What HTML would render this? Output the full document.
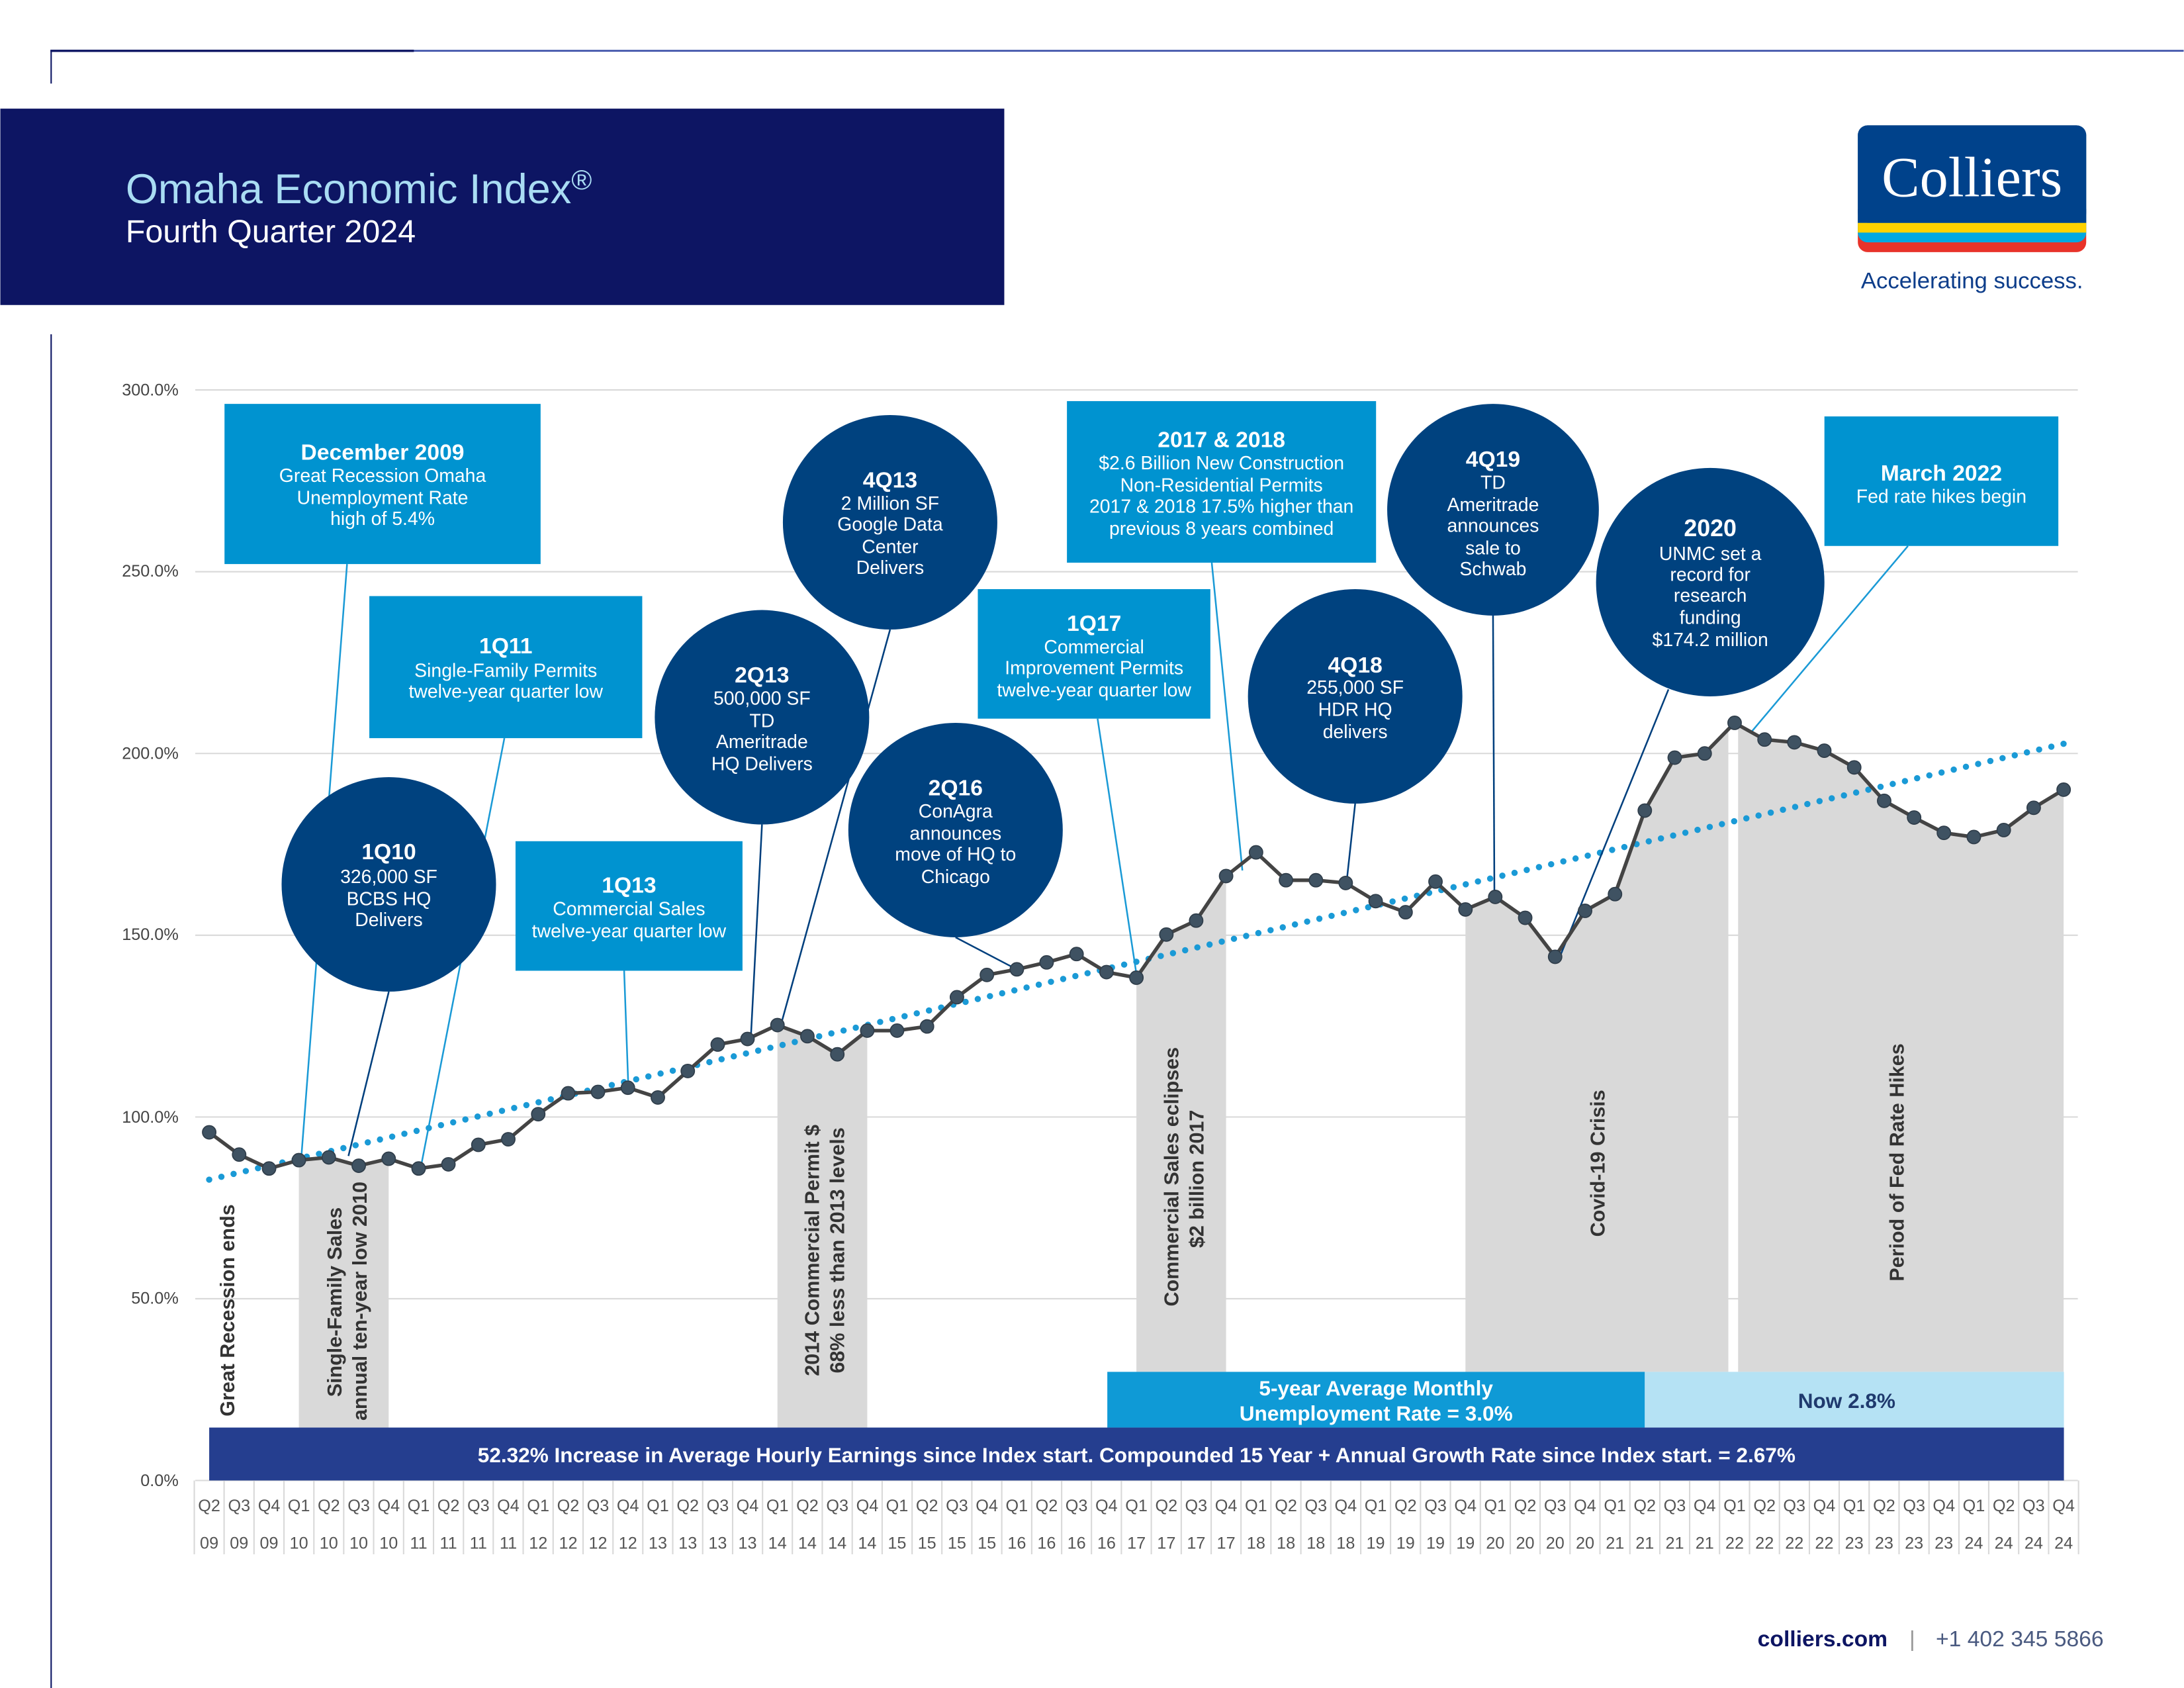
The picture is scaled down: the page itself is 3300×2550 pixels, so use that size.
<!DOCTYPE html>
<html><head><meta charset="utf-8"><style>
html,body{margin:0;padding:0;background:#fff}
svg{display:block}
text{font-family:"Liberation Sans",Arial,sans-serif}
text.serif{font-family:"Liberation Serif",serif}
</style></head><body>
<svg width="3300" height="2550" viewBox="0 0 1568 1212" xmlns="http://www.w3.org/2000/svg">
<rect width="1568" height="1212" fill="#fff"/>
<line x1="36" y1="36.5" x2="1568" y2="36.5" stroke="#3b4fa8" stroke-width="1.3"/>
<line x1="36" y1="36.5" x2="297" y2="36.5" stroke="#0d1563" stroke-width="1.6"/>
<line x1="36.5" y1="36" x2="36.5" y2="60" stroke="#0d1563" stroke-width="1"/>
<line x1="36.5" y1="240" x2="36.5" y2="1212" stroke="#0d1563" stroke-width="1"/>
<rect x="0" y="78" width="721" height="141" fill="#0d1563"/>
<text x="90" y="146" font-size="30" fill="#a9dcf3">Omaha Economic Index<tspan font-size="20" dy="-10">®</tspan></text>
<text x="90" y="174" font-size="23" fill="#fff">Fourth Quarter 2024</text>
<rect x="1334" y="90" width="164" height="91" rx="7" fill="#e8332a"/>
<rect x="1334" y="90" width="164" height="84" rx="7" fill="#00a8e1"/>
<rect x="1334" y="160" width="164" height="7" fill="#ffd200"/>
<rect x="1334" y="90" width="164" height="70" rx="7" fill="#00428b"/>
<rect x="1334" y="150" width="164" height="10" fill="#00428b"/>
<text class="serif" x="1416" y="141" font-size="41" fill="#fff" text-anchor="middle">Colliers</text>
<text x="1416" y="207" font-size="16.5" fill="#0d3d8a" text-anchor="middle">Accelerating success.</text>
<g stroke="#d9d9d9" stroke-width="1">
<line x1="140" y1="280" x2="1492" y2="280"/><line x1="140" y1="410.5" x2="1492" y2="410.5"/>
<line x1="140" y1="541" x2="1492" y2="541"/><line x1="140" y1="671.5" x2="1492" y2="671.5"/>
<line x1="140" y1="802" x2="1492" y2="802"/><line x1="140" y1="932.5" x2="1492" y2="932.5"/>
<line x1="140" y1="1063" x2="1492" y2="1063"/>
</g>
<g font-size="12" fill="#444" text-anchor="end">
<text x="128" y="284">300.0%</text><text x="128" y="414">250.0%</text><text x="128" y="545">200.0%</text>
<text x="128" y="675">150.0%</text><text x="128" y="806">100.0%</text><text x="128" y="936">50.0%</text><text x="128" y="1067">0.0%</text>
</g>
<g fill="#d9d9d9">
<polygon points="214.4,833 235.9,831 257.4,837 278.9,832 278.9,1025 214.4,1025"/>
<polygon points="558.1,736 579.6,744 601.1,757 622.6,740 622.6,1025 558.1,1025"/>
<polygon points="815.9,702 837.4,671 858.8,661 880.3,629 880.3,985 815.9,985"/>
<polygon points="1052.2,653 1073.6,644 1095.1,659 1116.6,687 1138.1,654 1159.6,642 1181,582 1202.5,544 1224,541 1241,524 1241,985 1052.2,985"/>
<polygon points="1248,520 1267,531 1288.4,533 1309.9,539 1331.4,551 1352.9,575 1374.4,587 1395.8,598 1417.3,601 1438.8,596 1460.3,580 1481.8,567 1481.8,985 1248,985"/>
</g>
<g font-size="14.5" font-weight="bold" fill="#333">
<text transform="translate(168,1017) rotate(-90)">Great Recession ends</text>
<text transform="translate(245,1003) rotate(-90)">Single-Family Sales</text>
<text transform="translate(263,1020) rotate(-90)">annual ten-year low 2010</text>
<text transform="translate(588,988) rotate(-90)">2014 Commercial Permit $</text>
<text transform="translate(606,986) rotate(-90)">68% less than 2013 levels</text>
<text transform="translate(846,938) rotate(-90)">Commercial Sales eclipses</text>
<text transform="translate(864,896) rotate(-90)">$2 billion 2017</text>
<text transform="translate(1152,888) rotate(-90)">Covid-19 Crisis</text>
<text transform="translate(1367,920) rotate(-90)">Period of Fed Rate Hikes</text>
</g>
<line x1="150" y1="847" x2="1482" y2="534" stroke="#1a9ad6" stroke-width="4.5" stroke-linecap="round" stroke-dasharray="0 9"/>
<g stroke="#1a9ad6" stroke-width="1.2" fill="none">
<line x1="249" y1="405" x2="216" y2="833"/>
<line x1="362" y1="530" x2="302" y2="838"/>
<line x1="448" y1="697" x2="451" y2="780"/>
<line x1="788" y1="516" x2="816" y2="700"/>
<line x1="870" y1="404" x2="892" y2="625"/>
<line x1="1370" y1="392" x2="1258" y2="525"/>
</g>
<g stroke="#003f7d" stroke-width="1.2" fill="none">
<line x1="279" y1="712" x2="250" y2="830"/>
<line x1="547" y1="592" x2="539" y2="745"/>
<line x1="639" y1="452" x2="560" y2="738"/>
<line x1="686" y1="673" x2="728" y2="695"/>
<line x1="973" y1="577" x2="967" y2="632"/>
<line x1="1072" y1="442" x2="1073" y2="643"/>
<line x1="1198" y1="495" x2="1120" y2="687"/>
</g>
<polyline fill="none" stroke="#444" stroke-width="2.6" stroke-linejoin="round" points="150,813 171.5,829 193,839 214.4,833 235.9,831 257.4,837 278.9,832 300.4,839 321.8,836 343.3,822 364.8,818 386.3,800 407.8,785 429.2,784 450.7,781 472.2,788 493.7,769 515.2,750 536.6,746 558.1,736 579.6,744 601.1,757 622.6,740 644,740 665.5,737 687,716 708.5,700 730,696 751.4,691 772.9,685 794.4,698 815.9,702 837.4,671 858.8,661 880.3,629 901.8,612 923.3,632 944.8,632 966.2,634 987.7,647 1009.2,655 1030.7,633 1052.2,653 1073.6,644 1095.1,659 1116.6,687 1138.1,654 1159.6,642 1181,582 1202.5,544 1224,541 1245.5,519 1267,531 1288.4,533 1309.9,539 1331.4,551 1352.9,575 1374.4,587 1395.8,598 1417.3,601 1438.8,596 1460.3,580 1481.8,567"/>
<g fill="#3f5262" stroke="#2f3d4a" stroke-width="0.8">
<circle cx="150" cy="813" r="4.8"/><circle cx="171.5" cy="829" r="4.8"/><circle cx="193" cy="839" r="4.8"/><circle cx="214.4" cy="833" r="4.8"/><circle cx="235.9" cy="831" r="4.8"/><circle cx="257.4" cy="837" r="4.8"/><circle cx="278.9" cy="832" r="4.8"/><circle cx="300.4" cy="839" r="4.8"/><circle cx="321.8" cy="836" r="4.8"/><circle cx="343.3" cy="822" r="4.8"/><circle cx="364.8" cy="818" r="4.8"/><circle cx="386.3" cy="800" r="4.8"/><circle cx="407.8" cy="785" r="4.8"/><circle cx="429.2" cy="784" r="4.8"/><circle cx="450.7" cy="781" r="4.8"/><circle cx="472.2" cy="788" r="4.8"/><circle cx="493.7" cy="769" r="4.8"/><circle cx="515.2" cy="750" r="4.8"/><circle cx="536.6" cy="746" r="4.8"/><circle cx="558.1" cy="736" r="4.8"/><circle cx="579.6" cy="744" r="4.8"/><circle cx="601.1" cy="757" r="4.8"/><circle cx="622.6" cy="740" r="4.8"/><circle cx="644" cy="740" r="4.8"/><circle cx="665.5" cy="737" r="4.8"/><circle cx="687" cy="716" r="4.8"/><circle cx="708.5" cy="700" r="4.8"/><circle cx="730" cy="696" r="4.8"/><circle cx="751.4" cy="691" r="4.8"/><circle cx="772.9" cy="685" r="4.8"/><circle cx="794.4" cy="698" r="4.8"/><circle cx="815.9" cy="702" r="4.8"/><circle cx="837.4" cy="671" r="4.8"/><circle cx="858.8" cy="661" r="4.8"/><circle cx="880.3" cy="629" r="4.8"/><circle cx="901.8" cy="612" r="4.8"/><circle cx="923.3" cy="632" r="4.8"/><circle cx="944.8" cy="632" r="4.8"/><circle cx="966.2" cy="634" r="4.8"/><circle cx="987.7" cy="647" r="4.8"/><circle cx="1009.2" cy="655" r="4.8"/><circle cx="1030.7" cy="633" r="4.8"/><circle cx="1052.2" cy="653" r="4.8"/><circle cx="1073.6" cy="644" r="4.8"/><circle cx="1095.1" cy="659" r="4.8"/><circle cx="1116.6" cy="687" r="4.8"/><circle cx="1138.1" cy="654" r="4.8"/><circle cx="1159.6" cy="642" r="4.8"/><circle cx="1181" cy="582" r="4.8"/><circle cx="1202.5" cy="544" r="4.8"/><circle cx="1224" cy="541" r="4.8"/><circle cx="1245.5" cy="519" r="4.8"/><circle cx="1267" cy="531" r="4.8"/><circle cx="1288.4" cy="533" r="4.8"/><circle cx="1309.9" cy="539" r="4.8"/><circle cx="1331.4" cy="551" r="4.8"/><circle cx="1352.9" cy="575" r="4.8"/><circle cx="1374.4" cy="587" r="4.8"/><circle cx="1395.8" cy="598" r="4.8"/><circle cx="1417.3" cy="601" r="4.8"/><circle cx="1438.8" cy="596" r="4.8"/><circle cx="1460.3" cy="580" r="4.8"/><circle cx="1481.8" cy="567" r="4.8"/>
</g>
<g fill="#0093d0">
<rect x="161" y="290" width="227" height="115"/>
<rect x="265" y="428" width="196" height="102"/>
<rect x="370" y="604" width="163" height="93"/>
<rect x="702" y="423" width="167" height="93"/>
<rect x="766" y="288" width="222" height="116"/>
<rect x="1310" y="299" width="168" height="93"/>
</g>
<g fill="#00427f">
<circle cx="279" cy="635" r="77"/>
<circle cx="547" cy="515" r="77"/>
<circle cx="639" cy="375" r="77"/>
<circle cx="686" cy="596" r="77"/>
<circle cx="973" cy="500" r="77"/>
<circle cx="1072" cy="366" r="76"/>
<circle cx="1228" cy="418" r="82"/>
</g>
<g fill="#fff" text-anchor="middle" font-size="13.5">
<text x="274.5" y="330" font-size="16" font-weight="bold">December 2009</text>
<text x="274.5" y="346">Great Recession Omaha</text><text x="274.5" y="362">Unemployment Rate</text><text x="274.5" y="377">high of 5.4%</text>
<text x="363" y="469" font-size="16" font-weight="bold">1Q11</text>
<text x="363" y="486">Single-Family Permits</text><text x="363" y="501">twelve-year quarter low</text>
<text x="451.5" y="641" font-size="16" font-weight="bold">1Q13</text>
<text x="451.5" y="657">Commercial Sales</text><text x="451.5" y="673">twelve-year quarter low</text>
<text x="785.5" y="453" font-size="16" font-weight="bold">1Q17</text>
<text x="785.5" y="469">Commercial</text><text x="785.5" y="484">Improvement Permits</text><text x="785.5" y="500">twelve-year quarter low</text>
<text x="877" y="321" font-size="16" font-weight="bold">2017 &amp; 2018</text>
<text x="877" y="337">$2.6 Billion New Construction</text><text x="877" y="353">Non-Residential Permits</text><text x="877" y="368">2017 &amp; 2018 17.5% higher than</text><text x="877" y="384">previous 8 years combined</text>
<text x="1394" y="345" font-size="16" font-weight="bold">March 2022</text>
<text x="1394" y="361">Fed rate hikes begin</text>
<text x="279" y="617" font-size="16" font-weight="bold">1Q10</text>
<text x="279" y="634">326,000 SF</text><text x="279" y="650">BCBS HQ</text><text x="279" y="665">Delivers</text>
<text x="547" y="490" font-size="16" font-weight="bold">2Q13</text>
<text x="547" y="506">500,000 SF</text><text x="547" y="522">TD</text><text x="547" y="537">Ameritrade</text><text x="547" y="553">HQ Delivers</text>
<text x="639" y="350" font-size="16" font-weight="bold">4Q13</text>
<text x="639" y="366">2 Million SF</text><text x="639" y="381">Google Data</text><text x="639" y="397">Center</text><text x="639" y="412">Delivers</text>
<text x="686" y="571" font-size="16" font-weight="bold">2Q16</text>
<text x="686" y="587">ConAgra</text><text x="686" y="603">announces</text><text x="686" y="618">move of HQ to</text><text x="686" y="634">Chicago</text>
<text x="973" y="483" font-size="16" font-weight="bold">4Q18</text>
<text x="973" y="498">255,000 SF</text><text x="973" y="514">HDR HQ</text><text x="973" y="530">delivers</text>
<text x="1072" y="335" font-size="16" font-weight="bold">4Q19</text>
<text x="1072" y="351">TD</text><text x="1072" y="367">Ameritrade</text><text x="1072" y="382">announces</text><text x="1072" y="398">sale to</text><text x="1072" y="413">Schwab</text>
<text x="1228" y="385" font-size="17" font-weight="bold">2020</text>
<text x="1228" y="402">UNMC set a</text><text x="1228" y="417">record for</text><text x="1228" y="432">research</text><text x="1228" y="448">funding</text><text x="1228" y="464">$174.2 million</text>
</g>
<rect x="795" y="985" width="386" height="40" fill="#0f9ad6"/>
<rect x="1181" y="985" width="301" height="40" fill="#b5e2f4"/>
<text x="988" y="1002" font-size="15" font-weight="bold" fill="#fff" text-anchor="middle">5-year Average Monthly</text>
<text x="988" y="1020" font-size="15" font-weight="bold" fill="#fff" text-anchor="middle">Unemployment Rate = 3.0%</text>
<text x="1326" y="1011" font-size="15" font-weight="bold" fill="#1f3a6e" text-anchor="middle">Now 2.8%</text>
<rect x="150" y="1025" width="1332" height="38" fill="#253e8f"/>
<text x="816" y="1050" font-size="15" font-weight="bold" fill="#fff" text-anchor="middle">52.32% Increase in Average Hourly Earnings since Index start. Compounded 15 Year + Annual Growth Rate since Index start. = 2.67%</text>
<g stroke="#d9d9d9" stroke-width="1">
<line x1="139.3" y1="1063" x2="139.3" y2="1116"/><line x1="1492.5" y1="1063" x2="1492.5" y2="1116"/>
<line x1="160.7" y1="1063" x2="160.7" y2="1116"/><line x1="182.2" y1="1063" x2="182.2" y2="1116"/><line x1="203.7" y1="1063" x2="203.7" y2="1116"/><line x1="225.2" y1="1063" x2="225.2" y2="1116"/><line x1="246.6" y1="1063" x2="246.6" y2="1116"/><line x1="268.1" y1="1063" x2="268.1" y2="1116"/><line x1="289.6" y1="1063" x2="289.6" y2="1116"/><line x1="311.1" y1="1063" x2="311.1" y2="1116"/><line x1="332.6" y1="1063" x2="332.6" y2="1116"/><line x1="354" y1="1063" x2="354" y2="1116"/><line x1="375.5" y1="1063" x2="375.5" y2="1116"/><line x1="397" y1="1063" x2="397" y2="1116"/><line x1="418.5" y1="1063" x2="418.5" y2="1116"/><line x1="440" y1="1063" x2="440" y2="1116"/><line x1="461.4" y1="1063" x2="461.4" y2="1116"/><line x1="482.9" y1="1063" x2="482.9" y2="1116"/><line x1="504.4" y1="1063" x2="504.4" y2="1116"/><line x1="525.9" y1="1063" x2="525.9" y2="1116"/><line x1="547.4" y1="1063" x2="547.4" y2="1116"/><line x1="568.8" y1="1063" x2="568.8" y2="1116"/><line x1="590.3" y1="1063" x2="590.3" y2="1116"/><line x1="611.8" y1="1063" x2="611.8" y2="1116"/><line x1="633.3" y1="1063" x2="633.3" y2="1116"/><line x1="654.8" y1="1063" x2="654.8" y2="1116"/><line x1="676.2" y1="1063" x2="676.2" y2="1116"/><line x1="697.7" y1="1063" x2="697.7" y2="1116"/><line x1="719.2" y1="1063" x2="719.2" y2="1116"/><line x1="740.7" y1="1063" x2="740.7" y2="1116"/><line x1="762.2" y1="1063" x2="762.2" y2="1116"/><line x1="783.6" y1="1063" x2="783.6" y2="1116"/><line x1="805.1" y1="1063" x2="805.1" y2="1116"/><line x1="826.6" y1="1063" x2="826.6" y2="1116"/><line x1="848.1" y1="1063" x2="848.1" y2="1116"/><line x1="869.6" y1="1063" x2="869.6" y2="1116"/><line x1="891" y1="1063" x2="891" y2="1116"/><line x1="912.5" y1="1063" x2="912.5" y2="1116"/><line x1="934" y1="1063" x2="934" y2="1116"/><line x1="955.5" y1="1063" x2="955.5" y2="1116"/><line x1="977" y1="1063" x2="977" y2="1116"/><line x1="998.4" y1="1063" x2="998.4" y2="1116"/><line x1="1019.9" y1="1063" x2="1019.9" y2="1116"/><line x1="1041.4" y1="1063" x2="1041.4" y2="1116"/><line x1="1062.9" y1="1063" x2="1062.9" y2="1116"/><line x1="1084.4" y1="1063" x2="1084.4" y2="1116"/><line x1="1105.8" y1="1063" x2="1105.8" y2="1116"/><line x1="1127.3" y1="1063" x2="1127.3" y2="1116"/><line x1="1148.8" y1="1063" x2="1148.8" y2="1116"/><line x1="1170.3" y1="1063" x2="1170.3" y2="1116"/><line x1="1191.8" y1="1063" x2="1191.8" y2="1116"/><line x1="1213.2" y1="1063" x2="1213.2" y2="1116"/><line x1="1234.7" y1="1063" x2="1234.7" y2="1116"/><line x1="1256.2" y1="1063" x2="1256.2" y2="1116"/><line x1="1277.7" y1="1063" x2="1277.7" y2="1116"/><line x1="1299.2" y1="1063" x2="1299.2" y2="1116"/><line x1="1320.6" y1="1063" x2="1320.6" y2="1116"/><line x1="1342.1" y1="1063" x2="1342.1" y2="1116"/><line x1="1363.6" y1="1063" x2="1363.6" y2="1116"/><line x1="1385.1" y1="1063" x2="1385.1" y2="1116"/><line x1="1406.6" y1="1063" x2="1406.6" y2="1116"/><line x1="1428" y1="1063" x2="1428" y2="1116"/><line x1="1449.5" y1="1063" x2="1449.5" y2="1116"/><line x1="1471" y1="1063" x2="1471" y2="1116"/>
</g>
<g font-size="12" fill="#555" text-anchor="middle">
<text y="1085"><tspan x="150">Q2</tspan><tspan x="171.5">Q3</tspan><tspan x="193">Q4</tspan><tspan x="214.4">Q1</tspan><tspan x="235.9">Q2</tspan><tspan x="257.4">Q3</tspan><tspan x="278.9">Q4</tspan><tspan x="300.4">Q1</tspan><tspan x="321.8">Q2</tspan><tspan x="343.3">Q3</tspan><tspan x="364.8">Q4</tspan><tspan x="386.3">Q1</tspan><tspan x="407.8">Q2</tspan><tspan x="429.2">Q3</tspan><tspan x="450.7">Q4</tspan><tspan x="472.2">Q1</tspan><tspan x="493.7">Q2</tspan><tspan x="515.2">Q3</tspan><tspan x="536.6">Q4</tspan><tspan x="558.1">Q1</tspan><tspan x="579.6">Q2</tspan><tspan x="601.1">Q3</tspan><tspan x="622.6">Q4</tspan><tspan x="644">Q1</tspan><tspan x="665.5">Q2</tspan><tspan x="687">Q3</tspan><tspan x="708.5">Q4</tspan><tspan x="730">Q1</tspan><tspan x="751.4">Q2</tspan><tspan x="772.9">Q3</tspan><tspan x="794.4">Q4</tspan><tspan x="815.9">Q1</tspan><tspan x="837.4">Q2</tspan><tspan x="858.8">Q3</tspan><tspan x="880.3">Q4</tspan><tspan x="901.8">Q1</tspan><tspan x="923.3">Q2</tspan><tspan x="944.8">Q3</tspan><tspan x="966.2">Q4</tspan><tspan x="987.7">Q1</tspan><tspan x="1009.2">Q2</tspan><tspan x="1030.7">Q3</tspan><tspan x="1052.2">Q4</tspan><tspan x="1073.6">Q1</tspan><tspan x="1095.1">Q2</tspan><tspan x="1116.6">Q3</tspan><tspan x="1138.1">Q4</tspan><tspan x="1159.6">Q1</tspan><tspan x="1181">Q2</tspan><tspan x="1202.5">Q3</tspan><tspan x="1224">Q4</tspan><tspan x="1245.5">Q1</tspan><tspan x="1267">Q2</tspan><tspan x="1288.4">Q3</tspan><tspan x="1309.9">Q4</tspan><tspan x="1331.4">Q1</tspan><tspan x="1352.9">Q2</tspan><tspan x="1374.4">Q3</tspan><tspan x="1395.8">Q4</tspan><tspan x="1417.3">Q1</tspan><tspan x="1438.8">Q2</tspan><tspan x="1460.3">Q3</tspan><tspan x="1481.8">Q4</tspan></text>
<text y="1112"><tspan x="150">09</tspan><tspan x="171.5">09</tspan><tspan x="193">09</tspan><tspan x="214.4">10</tspan><tspan x="235.9">10</tspan><tspan x="257.4">10</tspan><tspan x="278.9">10</tspan><tspan x="300.4">11</tspan><tspan x="321.8">11</tspan><tspan x="343.3">11</tspan><tspan x="364.8">11</tspan><tspan x="386.3">12</tspan><tspan x="407.8">12</tspan><tspan x="429.2">12</tspan><tspan x="450.7">12</tspan><tspan x="472.2">13</tspan><tspan x="493.7">13</tspan><tspan x="515.2">13</tspan><tspan x="536.6">13</tspan><tspan x="558.1">14</tspan><tspan x="579.6">14</tspan><tspan x="601.1">14</tspan><tspan x="622.6">14</tspan><tspan x="644">15</tspan><tspan x="665.5">15</tspan><tspan x="687">15</tspan><tspan x="708.5">15</tspan><tspan x="730">16</tspan><tspan x="751.4">16</tspan><tspan x="772.9">16</tspan><tspan x="794.4">16</tspan><tspan x="815.9">17</tspan><tspan x="837.4">17</tspan><tspan x="858.8">17</tspan><tspan x="880.3">17</tspan><tspan x="901.8">18</tspan><tspan x="923.3">18</tspan><tspan x="944.8">18</tspan><tspan x="966.2">18</tspan><tspan x="987.7">19</tspan><tspan x="1009.2">19</tspan><tspan x="1030.7">19</tspan><tspan x="1052.2">19</tspan><tspan x="1073.6">20</tspan><tspan x="1095.1">20</tspan><tspan x="1116.6">20</tspan><tspan x="1138.1">20</tspan><tspan x="1159.6">21</tspan><tspan x="1181">21</tspan><tspan x="1202.5">21</tspan><tspan x="1224">21</tspan><tspan x="1245.5">22</tspan><tspan x="1267">22</tspan><tspan x="1288.4">22</tspan><tspan x="1309.9">22</tspan><tspan x="1331.4">23</tspan><tspan x="1352.9">23</tspan><tspan x="1374.4">23</tspan><tspan x="1395.8">23</tspan><tspan x="1417.3">24</tspan><tspan x="1438.8">24</tspan><tspan x="1460.3">24</tspan><tspan x="1481.8">24</tspan></text>
</g>
<text x="1262" y="1182" font-size="16" font-weight="bold" fill="#0d1563">colliers.com</text>
<text x="1371" y="1182" font-size="16" fill="#999">|</text>
<text x="1390" y="1182" font-size="16" fill="#4a5a80">+1 402 345 5866</text>
</svg>
</body></html>
